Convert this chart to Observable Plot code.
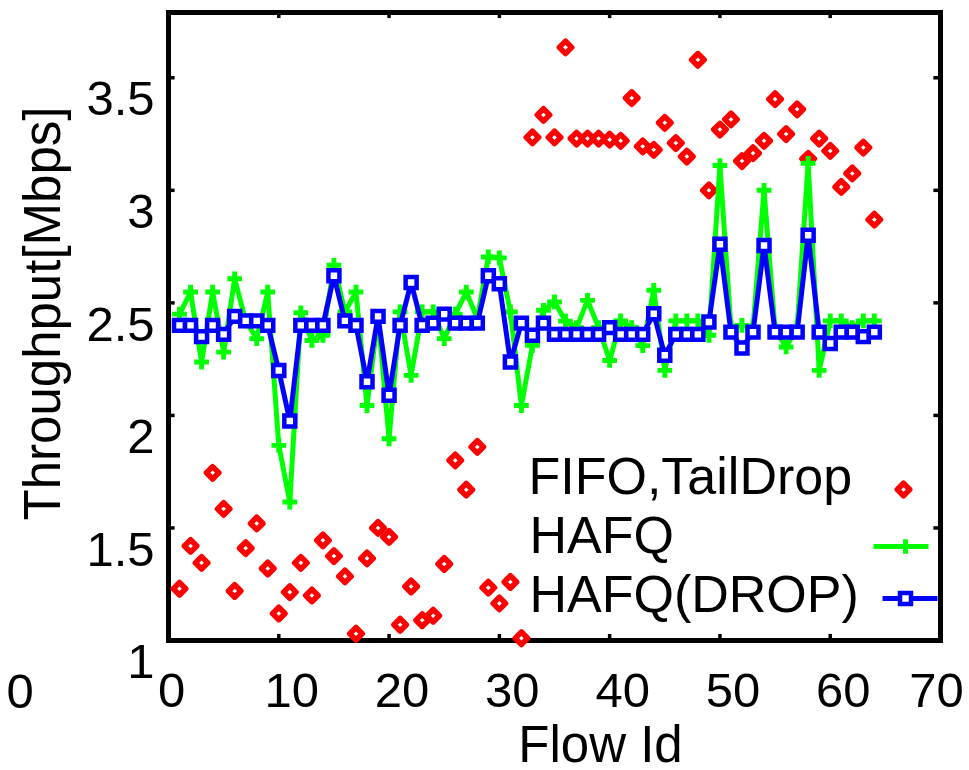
<!DOCTYPE html>
<html><head><meta charset="utf-8">
<script src="https://cdn.jsdelivr.net/npm/d3@7"></script>
<script src="https://cdn.jsdelivr.net/npm/@observablehq/plot@0.6"></script>
<style>html,body{margin:0;padding:0;background:#fff}#chart svg{display:block}</style>
</head><body><div id="chart"></div>
<script>
const flowIds = [1,2,3,4,5,6,7,8,9,10,11,12,13,14,15,16,17,18,19,20,21,22,23,24,25,26,27,28,29,30,31,32,
  33,34,35,36,37,38,39,40,41,42,43,44,45,46,47,48,49,50,51,52,53,54,55,56,57,58,59,60,61,62,63,64];
const fifoTailDrop = [1.23,1.42,1.345,1.745,1.585,1.22,1.41,1.52,1.32,1.12,1.215,1.345,1.20,1.445,1.375,1.285,
  1.03,1.365,1.50,1.46,1.07,1.24,1.09,1.11,1.34,1.80,1.67,1.86,1.235,1.165,1.26,1.01,
  3.235,3.335,3.235,3.635,3.23,3.23,3.23,3.225,3.22,3.41,3.195,3.18,3.30,3.21,3.15,3.58,
  3.00,3.27,3.315,3.13,3.165,3.22,3.405,3.25,3.36,3.14,3.23,3.175,3.015,3.075,3.19,2.87];
const hafq = [2.45,2.548,2.237,2.548,2.281,2.607,2.42,2.341,2.548,1.867,1.615,2.456,2.333,2.356,2.667,2.46,
  2.548,2.044,2.44,1.896,2.46,2.178,2.46,2.46,2.341,2.45,2.548,2.43,2.704,2.70,2.46,2.044,
  2.311,2.467,2.504,2.419,2.39,2.511,2.39,2.244,2.42,2.39,2.31,2.556,2.20,2.42,2.42,2.42,
  2.356,3.11,2.39,2.40,2.39,3.00,2.38,2.304,2.39,3.12,2.20,2.42,2.42,2.39,2.42,2.42];
const hafqDrop = [2.40,2.40,2.35,2.40,2.36,2.44,2.42,2.42,2.40,2.20,1.975,2.40,2.40,2.40,2.62,2.42,
  2.40,2.15,2.44,2.09,2.40,2.59,2.40,2.41,2.45,2.41,2.41,2.41,2.62,2.585,2.237,2.41,
  2.356,2.41,2.36,2.36,2.36,2.36,2.36,2.39,2.36,2.36,2.36,2.452,2.267,2.36,2.36,2.36,
  2.415,2.76,2.37,2.30,2.37,2.755,2.37,2.37,2.37,2.80,2.37,2.32,2.37,2.37,2.35,2.37];
const seriesNames = ["FIFO,TailDrop", "HAFQ", "HAFQ(DROP)"];
const xTicks = [0,10,20,30,40,50,60,70];
const yTicks = [1,1.5,2,2.5,3,3.5];
const xTitle = "Flow Id";
const yTitle = "Throughput[Mbps]";

const toRows = vals => flowIds.map((f, i) => ({flow: f, value: vals[i]}));
const fifoRows = toRows(fifoTailDrop);
const hafqRows = toRows(hafq);
const dropRows = toRows(hafqDrop);

const RED = "#ff0000", GREEN = "#00ff00", BLUE = "#0000ff";
const font = "'Liberation Sans', Arial, Helvetica, sans-serif";
const hline = {draw(ctx) { ctx.moveTo(-27.5, 0); ctx.lineTo(27.5, 0); }};
const innerX = xTicks.filter(t => t > 0 && t < 70);
const innerY = yTicks.filter(t => t > 1);

const redDot = {symbol: d3.symbolDiamond2, r: 5.6, stroke: RED, strokeWidth: 5.5, fill: "white", strokeLinejoin: "round"};
const greenDot = {symbol: "cross", r: 6.2, fill: GREEN};
const blueDot = {symbol: "square", r: 6.2, stroke: BLUE, strokeWidth: 4.5, fill: "white"};

const plot = Plot.plot({
  width: 969, height: 770,
  marginLeft: 168, marginRight: 29, marginTop: 12, marginBottom: 130,
  x: {domain: [0, 70], label: null},
  y: {domain: [1, 3.79], label: null},
  style: {fontFamily: font, background: "white", color: "black", overflow: "visible"},
  marks: [
    Plot.frame({stroke: "black", strokeWidth: 5}),
    // inward ticks (bottom/top, left/right)
    Plot.ruleX(innerX, {y1: 1, y2: 1.027, stroke: "black", strokeWidth: 3.5}),
    Plot.ruleX(innerX, {y1: 3.763, y2: 3.79, stroke: "black", strokeWidth: 3.5}),
    Plot.ruleY(innerY, {x1: 0, x2: 0.6, stroke: "black", strokeWidth: 3.5}),
    Plot.ruleY(innerY, {x1: 69.4, x2: 70, stroke: "black", strokeWidth: 3.5}),
    // tick labels
    Plot.axisX(innerX, {tickSize: 0, tickPadding: 32, fontSize: 49, dx: 13, label: null}),
    Plot.axisX([xTicks[0]], {tickSize: 0, tickPadding: 32, fontSize: 49, dx: 3, label: null}),
    Plot.axisX([xTicks[xTicks.length - 1]], {tickSize: 0, tickPadding: 32, fontSize: 49, dx: -4, label: null}),
    Plot.axisY(yTicks, {tickSize: 0, tickPadding: 14, dy: 22, fontSize: 49, tickFormat: d => String(d), label: null}),
    Plot.text(["0"], {text: d => d, frameAnchor: "bottom-left", dx: -162, dy: 67, lineAnchor: "bottom", fontSize: 49}),
    // titles
    Plot.text([xTitle], {text: d => d, frameAnchor: "bottom", textAnchor: "middle", dx: 46, dy: 121, lineAnchor: "bottom", fontSize: 51}),
    Plot.text([yTitle], {text: d => d, frameAnchor: "left", textAnchor: "middle", dx: -109, dy: -13, rotate: -90, lineAnchor: "bottom", fontSize: 51}),
    // data
    Plot.dot(fifoRows, {x: "flow", y: "value", ...redDot}),
    Plot.line(hafqRows, {x: "flow", y: "value", stroke: GREEN, strokeWidth: 5}),
    Plot.dot(hafqRows, {x: "flow", y: "value", ...greenDot}),
    Plot.line(dropRows, {x: "flow", y: "value", stroke: BLUE, strokeWidth: 5}),
    Plot.dot(dropRows, {x: "flow", y: "value", ...blueDot}),
    // legend
    Plot.text([seriesNames[0]], {text: d => d, frameAnchor: "bottom-right", dx: -412, dy: -147, textAnchor: "start", lineAnchor: "bottom", fontSize: 52}),
    Plot.text([seriesNames[1]], {text: d => d, frameAnchor: "bottom-right", dx: -411, dy: -88, textAnchor: "start", lineAnchor: "bottom", fontSize: 52}),
    Plot.text([seriesNames[2]], {text: d => d, frameAnchor: "bottom-right", dx: -411, dy: -29, textAnchor: "start", lineAnchor: "bottom", fontSize: 52}),
    Plot.dot([seriesNames[0]], {frameAnchor: "bottom-right", dx: -37, dy: -151, ...redDot}),
    Plot.dot([seriesNames[1]], {frameAnchor: "bottom-right", dx: -39.5, dy: -94, symbol: hline, r: 5, stroke: GREEN, strokeWidth: 5, fill: "none"}),
    Plot.dot([seriesNames[1]], {frameAnchor: "bottom-right", dx: -35, dy: -94, ...greenDot}),
    Plot.dot([seriesNames[2]], {frameAnchor: "bottom-right", dx: -30.5, dy: -42, symbol: hline, r: 5, stroke: BLUE, strokeWidth: 5, fill: "none"}),
    Plot.dot([seriesNames[2]], {frameAnchor: "bottom-right", dx: -35, dy: -42, ...blueDot})
  ]
});
document.getElementById("chart").appendChild(plot);
</script>
</body></html>
